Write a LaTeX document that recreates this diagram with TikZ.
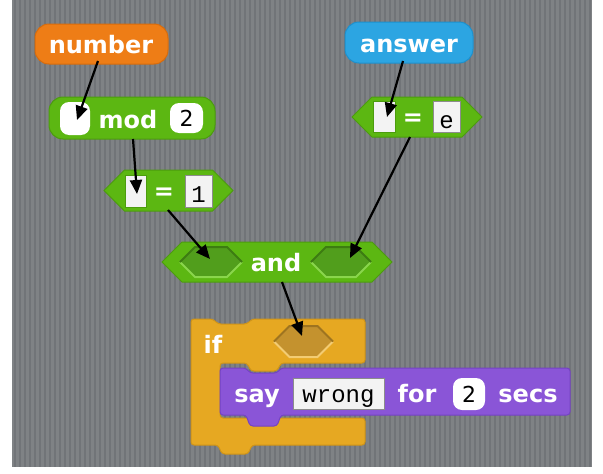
\documentclass[tikz,border=0pt]{standalone}
\usepackage{fontspec}
\usetikzlibrary{arrows.meta}
\newfontfamily\scr{DejaVu Sans}
\newfontfamily\scrmono{Liberation Mono}
\definecolor{bg}{HTML}{7F8285}
\definecolor{bgline}{HTML}{717478}
\definecolor{varor}{HTML}{EE7D16}
\definecolor{varord}{HTML}{D86C0C}
\definecolor{sensb}{HTML}{2CA5E2}
\definecolor{sensbd}{HTML}{1E90CC}
\definecolor{opg}{HTML}{5CB712}
\definecolor{opgd}{HTML}{4C9C0E}
\definecolor{slotg}{HTML}{519E1C}
\definecolor{slotgl}{HTML}{8AD64C}
\definecolor{slotgd}{HTML}{3D7C12}
\definecolor{ctl}{HTML}{E6A822}
\definecolor{ctld}{HTML}{CF9418}
\definecolor{ctlslot}{HTML}{C4922E}
\definecolor{ctlslotl}{HTML}{F3CC73}
\definecolor{ctlslotd}{HTML}{9E7420}
\definecolor{looks}{HTML}{8A55D7}
\definecolor{looksd}{HTML}{7443C2}
\definecolor{field}{HTML}{F3F3F3}
\def\hexp#1#2#3#4{(#1,{(#2+#4)/2}) -- ({#1+(#4-#2)/2},#2) -- ({#3-(#4-#2)/2},#2) -- (#3,{(#2+#4)/2}) -- ({#3-(#4-#2)/2},#4) -- ({#1+(#4-#2)/2},#4) -- cycle}
\def\hexlow#1#2#3#4{(#1,{(#2+#4)/2}) -- ({#1+(#4-#2)/2},#4) -- ({#3-(#4-#2)/2},#4) -- (#3,{(#2+#4)/2})}
\def\hexup#1#2#3#4{(#1,{(#2+#4)/2}) -- ({#1+(#4-#2)/2},#2) -- ({#3-(#4-#2)/2},#2) -- (#3,{(#2+#4)/2})}
\tikzset{
  lbl/.style={font=\scr\bfseries\fontsize{24}{24}\selectfont, text=white, inner sep=0pt, anchor=base},
  val/.style={font=\scr\fontsize{22}{22}\selectfont, text=black, inner sep=0pt, anchor=base},
  mono/.style={font=\scrmono\fontsize{24}{24}\selectfont, text=black, inner sep=0pt, anchor=base},
  arr/.style={line width=2.2pt, draw=black, -{Triangle[length=14pt,width=12pt]}},
  roundfield/.style={fill=white, rounded corners=9pt},
  rectfield/.style={fill=field, draw=black!45, line width=0.8pt},
  slotfield/.style={fill=field, draw=opgd, line width=1pt}
}
\begin{document}
\begin{tikzpicture}[x=1pt,y=-1pt]
\useasboundingbox (0,0) rectangle (603,474);
% background
\fill[white] (0,0) rectangle (603,474);
\fill[bg] (12,0) rectangle (592,467);
\foreach \x in {14,19,...,590} \fill[bgline] (\x,0) rectangle ++(1.6,467);

% number reporter
\filldraw[fill=varor, draw=varord, line width=1pt, rounded corners=14pt] (35,24) rectangle (168,64);
\node[lbl] (number) at (101,53) {number};

% answer reporter
\filldraw[fill=sensb, draw=sensbd, line width=1pt, rounded corners=14pt] (345,22) rectangle (473,63);
\node[lbl] (answer) at (409,52) {answer};

% mod block
\filldraw[fill=opg, draw=opgd, line width=1pt, rounded corners=14pt] (49,97) rectangle (215,139);
\fill[roundfield] (60,102) rectangle (90,135);
\node[lbl] (mod) at (128,128) {mod};
\fill[roundfield] (170,103) rectangle (203,133);
\node[val] (modtwo) at (186.5,126) {2};

% left = block
\filldraw[fill=opg, draw=opgd, line width=1pt] \hexp{104}{170}{233}{211};
\draw[slotfield] (125,175) rectangle (146,207);
\node[lbl] (eqa) at (164,199.5) {=};
\draw[rectfield] (185,175) rectangle (212,207);
\node[mono] (one) at (198.5,202) {1};

% right = block
\filldraw[fill=opg, draw=opgd, line width=1pt] \hexp{352}{97}{482}{137};
\draw[slotfield] (373,101) rectangle (395,132);
\node[lbl] (eqb) at (413,125) {=};
\draw[rectfield] (433,101) rectangle (460,132);
\node[mono] (e) at (446.5,128) {e};

% and block
\filldraw[fill=opg, draw=opgd, line width=1pt] \hexp{162}{242}{392}{282};
\fill[slotg] \hexp{180}{247}{242}{277};
\draw[slotgl, line width=2pt] \hexlow{180}{247}{242}{277};
\draw[slotgd, line width=2pt] \hexup{180}{247}{242}{277};
\fill[slotg] \hexp{311}{247}{371}{277};
\draw[slotgl, line width=2pt] \hexlow{311}{247}{371}{277};
\draw[slotgd, line width=2pt] \hexup{311}{247}{371}{277};
\node[lbl] (and) at (276,271) {and};

% if C-block
\filldraw[fill=ctl, draw=ctld, line width=1pt, rounded corners=3pt]
  (191,319) -- (213,319) -- (218,324) -- (247,324) -- (252,319) -- (365,319)
  -- (365,363) -- (281,363) -- (277,371) -- (251,371) -- (247,363) -- (220,363)
  -- (220,418) -- (365,418) -- (365,445) -- (252,445) -- (248,454) -- (222,454)
  -- (218,445) -- (191,445) -- cycle;
\fill[ctlslot] \hexp{274}{326}{333}{357};
\draw[ctlslotl, line width=2pt] \hexlow{274}{326}{333}{357};
\draw[ctlslotd, line width=2pt] \hexup{274}{326}{333}{357};
\node[lbl] (if) at (213,353) {if};

% say block
\filldraw[fill=looks, draw=looksd, line width=1pt, rounded corners=3pt]
  (220,368) -- (246,368) -- (250,373) -- (277,373) -- (281,368) -- (570,368)
  -- (570,415) -- (281,415) -- (277,426) -- (250,426) -- (246,415) -- (220,415) -- cycle;
\node[lbl] (say) at (257,402) {say};
\draw[rectfield] (293,378) rectangle (384,409);
\node[mono] (wrong) at (338.5,402) {wrong};
\node[lbl] (for) at (417,402) {for};
\fill[roundfield] (453,378) rectangle (485,410);
\node[val] (saytwo) at (469,402) {2};
\node[lbl] (secs) at (528,402) {secs};

% arrows
\coordinate (a1s) at (98,61);   \coordinate (a1e) at (77,120);
\coordinate (a2s) at (403,61);  \coordinate (a2e) at (387,117);
\coordinate (a3s) at (133,139); \coordinate (a3e) at (137,194);
\coordinate (a4s) at (168,210); \coordinate (a4e) at (210,259);
\coordinate (a5s) at (410,137); \coordinate (a5e) at (350,258);
\coordinate (a6s) at (282,282); \coordinate (a6e) at (302,336);
\draw[arr] (a1s) -- (a1e);
\draw[arr] (a2s) -- (a2e);
\draw[arr] (a3s) -- (a3e);
\draw[arr] (a4s) -- (a4e);
\draw[arr] (a5s) -- (a5e);
\draw[arr] (a6s) -- (a6e);
\end{tikzpicture}
\end{document}
